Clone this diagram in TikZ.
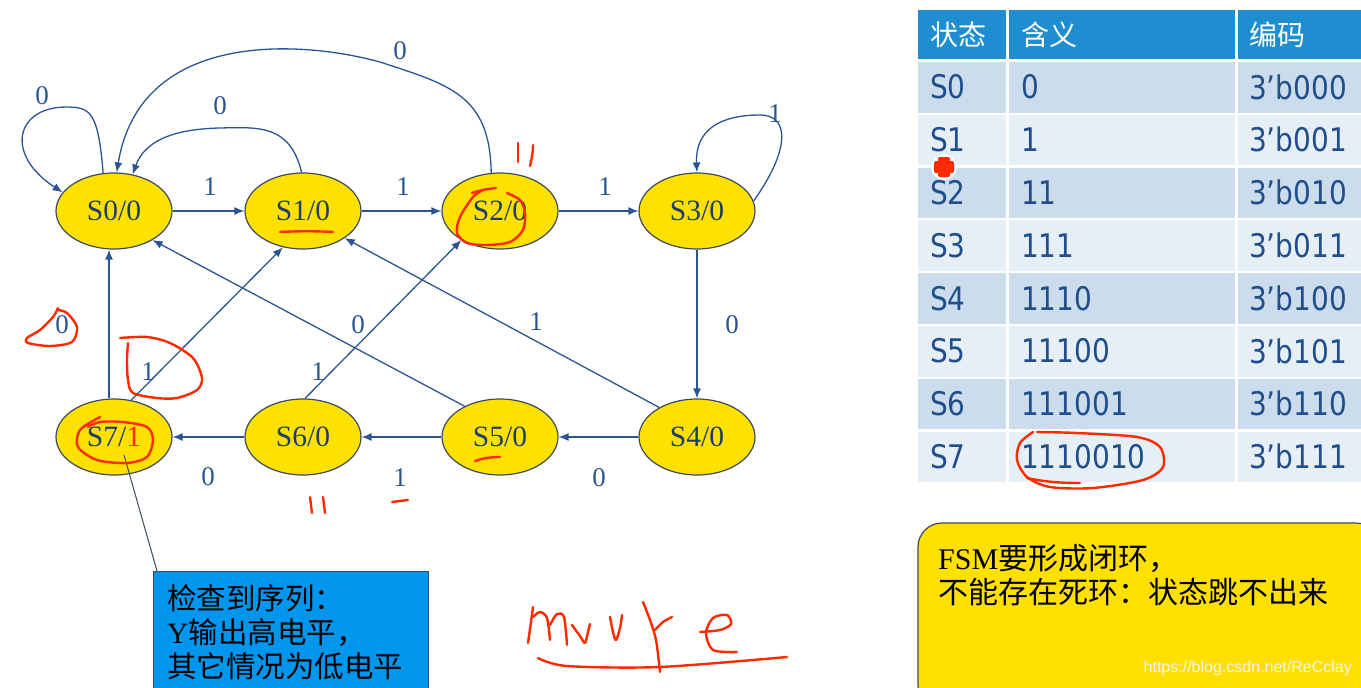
\documentclass[tikz,border=0pt]{standalone}
\usepackage{fontspec}
\setmainfont{Liberation Serif}
\newfontfamily\cjk{Noto Sans CJK SC}
\newfontfamily\verd[FakeStretch=0.86]{DejaVu Sans}
\newfontfamily\arialf{Liberation Sans}
\usetikzlibrary{shapes.geometric,arrows.meta}
\definecolor{stfill}{HTML}{FFE100}
\definecolor{stdraw}{HTML}{3B4A5C}
\definecolor{edgeblue}{HTML}{2B5592}
\definecolor{txtblue}{HTML}{1F3D6B}
\definecolor{annred}{HTML}{FF2A00}
\definecolor{hdrblue}{HTML}{1E8ED0}
\definecolor{rowdark}{HTML}{CBDCEC}
\definecolor{rowlight}{HTML}{E6EEF6}
\definecolor{tabtxt}{HTML}{1F4E8C}
\definecolor{callblue}{HTML}{0096EE}
\definecolor{notey}{HTML}{FFE000}
\begin{document}
\begin{tikzpicture}[x=1pt,y=-1pt,
  state/.style={ellipse,draw=stdraw,line width=1.2pt,fill=stfill,minimum width=116pt,minimum height=76pt,inner sep=0pt,text=txtblue,font=\fontsize{29.5}{29.5}\selectfont},
  edge/.style={draw=edgeblue,line width=1.3pt,-{Latex[length=10pt,width=8pt]}},
  elab/.style={text=edgeblue,font=\fontsize{27}{27}\selectfont,inner sep=0pt},
  ann/.style={draw=annred,line width=2.4pt,line cap=round,line join=round},
  tabt/.style={anchor=west,inner sep=0pt,text=tabtxt,font=\verd\fontsize{32.5}{32.5}\selectfont},
  hdrt/.style={anchor=west,inner sep=0pt,text=white,font=\cjk\fontsize{28}{28}\selectfont}]
\useasboundingbox[fill=white] (0,0) rectangle (1361,688);

% states
\node[state] (S0) at (114,211) {S0/0};
\node[state] (S1) at (303,211) {S1/0};
\node[state] (S2) at (500,211) {S2/0};
\node[state] (S3) at (697,211) {S3/0};
\node[state] (S7) at (114,437) {S7/\textcolor{annred}{1}};
\node[state] (S6) at (303,437) {S6/0};
\node[state] (S5) at (500,437) {S5/0};
\node[state] (S4) at (697,437) {S4/0};

% edges
\draw[edge] (S0.106) .. controls (98,110) and (90,107) .. (65,107) .. controls (15,108) and (5,155) .. (S0.160);
\draw[edge] (S1.92) .. controls (290,125) and (260,127) .. (220,128) .. controls (175,129) and (145,140) .. (S0.63);
\draw[edge] (S2.103) .. controls (490,95) and (450,85) .. (380,62) .. controls (300,40) and (140,30) .. (S0.86);
\draw[edge] (S0) -- (S1);
\draw[edge] (S1) -- (S2);
\draw[edge] (S2) -- (S3);
\draw[edge] (S3.10) .. controls (790,150) and (790,115) .. (760,115) .. controls (720,115) and (695,130) .. (S3.north);
\draw[edge] (S3) -- (S4);
\draw[edge] (S4) -- (S5);
\draw[edge] (S5) -- (S6);
\draw[edge] (S6) -- (S7);
\draw[edge] ([xshift=-5pt]S7.north) -- ([xshift=-5pt]S0.south);
\draw[edge] (S7.65) -- (S1.241);
\draw[edge] (S6.87) -- (S2.217);
\draw[edge] (S5.139) -- (S0.323);
\draw[edge] (S4.142) -- (S1.327);

% edge labels
\node[elab] (l00) at (42,96) {0};
\node[elab] (l10) at (220,106) {0};
\node[elab] (l20) at (400,51) {0};
\node[elab] (l01) at (210,187) {1};
\node[elab] (l12) at (403,187) {1};
\node[elab] (l23) at (605,187) {1};
\node[elab] (l33) at (775,114) {1};
\node[elab] (l34) at (732,325) {0};
\node[elab] (l45) at (599,478) {0};
\node[elab] (l56) at (400,478) {1};
\node[elab] (l67) at (208,477) {0};
\node[elab] (l70) at (62,325) {0};
\node[elab] (l71) at (148,372) {1};
\node[elab] (l62) at (318,372) {1};
\node[elab] (l50) at (358,325) {0};
\node[elab] (l41) at (536,322) {1};

% callout
\node[draw=stdraw,line width=1pt,fill=callblue,anchor=north west,minimum width=275pt,minimum height=130pt,inner sep=0pt] (call) at (153,571) {};
\coordinate (c7) at (124,455);
\draw[stdraw,line width=1pt] (c7) -- ([xshift=4pt]call.north west);
\node[anchor=west,align=left,inner sep=0pt,font=\cjk\fontsize{29.5}{34}\selectfont] (calltxt) at (167,632)
  {检查到序列：\\{\rmfamily Y}输出高电平，\\其它情况为低电平};

% table
\fill[hdrblue] (918,10) rectangle (1006,59);
\fill[hdrblue] (1009,10) rectangle (1235,59);
\fill[hdrblue] (1238,10) rectangle (1361,59);
\node[hdrt] (h1) at (930,35) {状态};
\node[hdrt] (h2) at (1021,35) {含义};
\node[hdrt] (h3) at (1249,35) {编码};
\foreach \i/\s/\m/\c in {0/S0/0/{3’b000},1/S1/1/{3’b001},2/S2/11/{3’b010},3/S3/111/{3’b011},4/S4/1110/{3’b100},5/S5/11100/{3’b101},6/S6/111001/{3’b110},7/S7/1110010/{3’b111}}{
  \pgfmathsetmacro\rtop{62+52.8*\i}
  \pgfmathsetmacro\rmid{\rtop+25}
  \pgfmathtruncatemacro\rodd{mod(\i,2)}
  \ifnum\rodd=0 \def\rc{rowdark}\else\def\rc{rowlight}\fi
  \fill[\rc] (918,\rtop) rectangle (1006,\rtop+50.5);
  \fill[\rc] (1009,\rtop) rectangle (1235,\rtop+50.5);
  \fill[\rc] (1238,\rtop) rectangle (1361,\rtop+50.5);
  \node[tabt] (ts\i) at (930,\rmid) {\s};
  \node[tabt] (tm\i) at (1021,\rmid) {\m};
  \node[tabt] (tc\i) at (1249,\rmid) {\c};
}

% note box
\draw[stdraw,line width=1.2pt,fill=notey,rounded corners=24pt] (918,523) rectangle (1380,710);
\node[anchor=west,align=left,inner sep=0pt,font=\cjk\fontsize{30}{34}\selectfont] (note) at (938,575)
  {{\rmfamily FSM}要形成闭环，\\不能存在死环：状态跳不出来};
\node[anchor=east,inner sep=0pt,text=white!92!gray,font=\arialf\fontsize{16}{16}\selectfont] (wm) at (1352,668) {https://blog.csdn.net/ReCclay};

% red annotations
\draw[ann] plot[smooth] coordinates {(58,310) (67,313) (77,327) (72,342) (50,346) (28,343) (27,338) (40,330) (53,317) (58,308)};
\draw[ann] plot[smooth] coordinates {(120,338) (147,337) (170,343) (193,358) (202,378) (197,390) (177,398) (157,398) (133,393) (128,380) (127,360) (128,343)};
\draw[ann] plot[smooth] coordinates {(100,417) (80,430) (78,447) (97,460) (127,463) (147,457) (153,440) (147,427) (123,422) (100,422) (88,427)};
\draw[ann] (280,232) .. controls (300,231) and (315,231) .. (333,232);
\draw[ann] plot[smooth] coordinates {(483,190) (473,197) (460,217) (457,233) (467,243) (487,245) (510,242) (523,230) (525,213) (520,200) (507,193)};
\draw[ann] (472,193) .. controls (480,190) and (488,189) .. (496,188);
\draw[ann] (518,143) .. controls (518,150) and (518,156) .. (518,162);
\draw[ann] (533,145) .. controls (533,152) and (532,158) .. (530,166);
\draw[ann] (310,497) -- (312,513);
\draw[ann] (323,497) -- (325,513);
\draw[ann] (392,502) -- (408,500);
\draw[ann] (475,461) .. controls (483,458) and (492,457) .. (500,457);
\draw[ann] plot[smooth] coordinates {(1033,432) (1020,443) (1017,460) (1027,477) (1050,487) (1093,488) (1143,480) (1163,467) (1160,447) (1137,437) (1077,433) (1037,432)};
\draw[ann] (1027,478) .. controls (1045,482) and (1062,483) .. (1080,483);
% cursor marker
\fill[white] (944,167) circle (13pt);
\fill[annred,rounded corners=2pt] (938,157) rectangle (950,177);
\fill[annred,rounded corners=2pt] (934,161) rectangle (954,173);
% handwriting
\draw[ann] plot[smooth] coordinates {(528,643) (531,622) (533,607)};
\draw[ann] plot[smooth] coordinates {(533,617) (540,612) (547,618) (550,640)};
\draw[ann] plot[smooth] coordinates {(550,625) (557,614) (564,617) (567,645)};
\draw[ann] plot[smooth] coordinates {(572,625) (580,636) (585,643) (588,632) (590,624)};
\draw[ann] plot[smooth] coordinates {(610,617) (613,632) (616,640) (620,628) (622,615)};
\draw[ann] plot[smooth] coordinates {(643,602) (650,620) (656,640) (660,672)};
\draw[ann] plot[smooth] coordinates {(655,630) (663,622) (672,617)};
\draw[ann] plot[smooth] coordinates {(700,632) (720,630) (731,624) (727,615) (713,618) (706,633) (713,650) (737,652)};
\draw[ann] plot[smooth] coordinates {(538,658) (567,666) (660,667) (787,657)};
\end{tikzpicture}
\end{document}
